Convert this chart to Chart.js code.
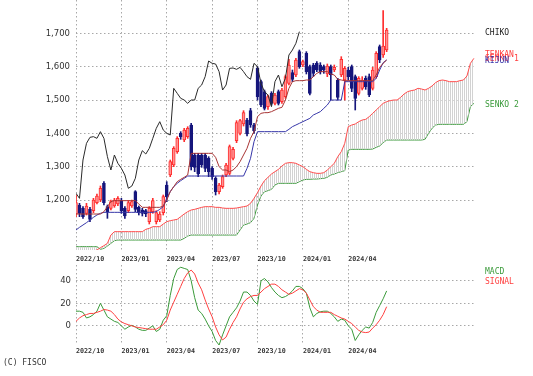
<!DOCTYPE html>
<html>
<head>
<meta charset="utf-8">
<script src="https://cdn.jsdelivr.net/npm/chart.js@4.4.1/dist/chart.umd.min.js"></script>
<style>
body { margin: 0; background: #fff; width: 533px; height: 376px; overflow: hidden; position: relative; }
canvas { position: absolute; left: 0; }
#main { top: 0; }
#macd { top: 265px; }
.lbl { position: absolute; font-family: "DejaVu Sans Mono", monospace; font-size: 8px; line-height: 8px; white-space: pre; }
</style>
</head>
<body>
<canvas id="main" width="533" height="265"></canvas>
<canvas id="macd" width="533" height="100"></canvas>
<div class="lbl" style="left:485px;top:29px;color:#222">CHIKO</div>
<div class="lbl" style="left:485px;top:51px;color:#ff4040">TENKAN</div>
<div class="lbl" style="left:485px;top:55px;color:#ff4040">SENKO 1</div>
<div class="lbl" style="left:485px;top:57px;color:#3333aa">KIJUN</div>
<div class="lbl" style="left:485px;top:101px;color:#3a9a3a">SENKO 2</div>
<div class="lbl" style="left:485px;top:268px;color:#3a9a3a">MACD</div>
<div class="lbl" style="left:485px;top:278px;color:#ff4040">SIGNAL</div>
<div class="lbl" style="left:3px;top:359px;color:#333">(C) FISCO</div>
<script>
// weekly data, index 0 = first week of 2022/10
var quarterIdx = [0, 13, 26, 39, 52, 65, 78];
var quarterLabels = ['2022/10', '2023/01', '2023/04', '2023/07', '2023/10', '2024/01', '2024/04'];
var priceTicks = [1200, 1300, 1400, 1500, 1600, 1700];
var macdTicks = [0, 20, 40];

var opens = [1158,1185,1175,1160,1172,1168,1192,1200,1250,1180,1175,1182,1188,1198,1175,1168,1182,1225,1178,1170,
  1168,1135,1165,1135,1140,1162,1245,1275,1305,1345,1400,1380,1390,1425,1335,1335,1335,1335,1325,1295,
  1265,1225,1240,1275,1280,1325,1378,1400,1428,1440,1468,1425,1595,1555,1525,1480,1520,1490,1525,1495,
  1510,1550,1582,1575,1645,1605,1640,1600,1605,1610,1605,1600,1578,1600,1590,1560,1575,1560,1590,1600,
  1570,1520,1535,1565,1570,1535,1570,1660,1635,1650];
var highs = [1215,1190,1180,1190,1178,1205,1218,1242,1255,1185,1200,1205,1210,1205,1180,1198,1200,1228,1182,1175,
  1172,1180,1205,1168,1165,1215,1255,1320,1360,1390,1405,1415,1420,1430,1340,1340,1340,1340,1330,1300,
  1270,1250,1275,1310,1365,1358,1438,1442,1468,1445,1475,1430,1600,1560,1530,1515,1525,1520,1530,1535,
  1575,1622,1590,1625,1650,1620,1645,1605,1610,1615,1612,1605,1608,1605,1605,1565,1630,1600,1598,1605,
  1575,1570,1570,1572,1578,1598,1645,1665,1768,1715];
var lows = [1150,1150,1145,1155,1135,1162,1188,1195,1185,1145,1170,1178,1183,1160,1145,1162,1178,1165,1155,1152,
  1150,1128,1160,1128,1135,1155,1195,1270,1300,1340,1382,1375,1385,1290,1285,1270,1298,1285,1270,1262,
  1215,1218,1235,1270,1275,1320,1372,1395,1422,1392,1418,1400,1500,1480,1470,1472,1485,1485,1485,1490,
  1505,1545,1555,1570,1595,1600,1578,1515,1570,1585,1578,1580,1570,1500,1585,1500,1570,1500,1560,1525,
  1470,1515,1530,1532,1510,1530,1565,1612,1628,1645];
var closes = [1192,1160,1150,1182,1142,1200,1212,1235,1192,1165,1195,1200,1205,1168,1152,1192,1195,1172,1162,1160,
  1158,1175,1198,1162,1158,1210,1210,1315,1355,1385,1390,1410,1415,1300,1298,1278,1305,1295,1285,1270,
  1225,1245,1270,1305,1360,1352,1432,1438,1462,1398,1425,1408,1510,1485,1475,1510,1490,1515,1490,1530,
  1570,1605,1562,1620,1600,1615,1585,1520,1580,1590,1585,1590,1602,1575,1598,1508,1622,1595,1570,1535,
  1505,1565,1560,1540,1515,1590,1640,1620,1662,1710];

var tenkan = [1158,1158,1158,1158,1158,1158,1158,1158,1165,1180,1195,1198,1198,1198,1198,1198,1198,1198,1188,1178,
  1178,1178,1178,1178,1178,1182,1200,1225,1240,1255,1262,1268,1275,1340,1340,1340,1340,1340,1340,1340,
  1328,1300,1290,1290,1285,1290,1300,1315,1335,1355,1385,1405,1450,1460,1462,1462,1465,1470,1475,1478,
  1500,1535,1555,1558,1558,1558,1560,1560,1570,1580,1585,1585,1585,1578,1575,1562,1560,1558,1558,1558,
  1558,1558,1558,1558,1558,1558,1575,1598,1610,1620];
var kijun = [1110,1118,1125,1132,1140,1148,1155,1160,1163,1163,1163,1163,1163,1163,1163,1163,1163,1163,1163,1163,
  1163,1163,1163,1165,1172,1180,1205,1225,1240,1250,1258,1265,1272,1272,1272,1272,1272,1272,1272,1272,
  1272,1272,1272,1272,1272,1272,1272,1272,1272,1295,1325,1375,1405,1405,1405,1405,1405,1405,1405,1405,
  1405,1412,1420,1425,1430,1435,1440,1445,1455,1460,1465,1475,1485,1500,1500,1500,1500,1555,1555,1555,
  1555,1555,1555,1555,1555,1555,1565,1590,1612,1620];
var senko1 = [1030,1033,1036,1040,1043,1047,1050,1057,1063,1070,1095,1105,1105,1105,1105,1105,1105,1105,1105,1105,
  1112,1115,1120,1120,1120,1128,1135,1138,1140,1142,1150,1158,1165,1170,1172,1175,1178,1180,1180,1180,
  1178,1178,1176,1175,1175,1175,1176,1178,1180,1182,1190,1205,1222,1242,1258,1268,1278,1285,1292,1302,
  1310,1312,1312,1310,1305,1300,1292,1285,1282,1280,1280,1282,1290,1300,1310,1330,1345,1370,1420,1425,
  1428,1435,1440,1442,1450,1460,1470,1480,1490,1495,1498,1500,1500,1508,1518,1525,1528,1530,1535,1533,
  1530,1535,1542,1552,1558,1560,1558,1555,1555,1555,1558,1560,1572,1610,1625];
var senko2 = [1060,1060,1060,1060,1060,1060,1060,1052,1055,1062,1070,1078,1080,1080,1080,1080,1080,1080,1080,1080,
  1080,1080,1080,1080,1080,1080,1080,1080,1080,1080,1080,1085,1092,1095,1095,1095,1095,1095,1095,1095,
  1095,1095,1095,1095,1095,1095,1095,1110,1125,1128,1132,1145,1185,1212,1225,1228,1232,1245,1250,1250,
  1250,1250,1250,1250,1255,1260,1262,1262,1263,1263,1264,1265,1268,1275,1278,1282,1285,1288,1350,1352,
  1352,1352,1352,1352,1352,1353,1358,1362,1372,1380,1380,1380,1380,1380,1380,1380,1380,1380,1380,1380,
  1382,1400,1415,1425,1427,1427,1427,1427,1427,1427,1427,1427,1435,1480,1490];
var chikou = [1220,1205,1320,1370,1388,1390,1385,1405,1385,1330,1290,1335,1310,1295,1275,1235,1242,1265,1320,1348,
  1338,1355,1385,1415,1435,1410,1400,1395,1535,1520,1505,1500,1490,1500,1500,1535,1545,1570,1617,1610,
  1608,1585,1530,1545,1595,1596,1592,1598,1585,1570,1562,1610,1600,1550,1525,1515,1480,1555,1575,1540,
  1565,1635,1650,1670,1705];

var macd = [13,13,12,7,8,10,13,20,14,8,6,4,3,0,-3,-1,0.5,-1,-3,-4,
  -4,-2,0,-5,-3,5,9,27,42,50,52,51,50,40,25,14,11,6,0,-5,
  -13,-17,-8,0,8,12,16,22,30,30,27,22,19,40,42,39,34,30,27,25,
  26,28,31,35,35,33,29,16,8,11,12.5,13,13,11,8,4,6,5,0,-3,
  -13,-8,-4,-1,-2,3,12,18,24,31];
var signal = [4,7,9,10,11,11,12,13,14.5,14,13,10,6,3.5,2,1,0,-1,-1.5,-2,
  -2.5,-3,-3,-3,-1,1,5,14,21,28,35,42,47,49.5,46,38,32,23,15,8,
  -1,-8,-12.5,-10,-3,3,8,15,21,24,26,27,27,30,33,35,37,37,35,32,
  30,28,29,31,33,32,29,23,17,14,12,12,12,12,10,8.5,7,6,4,2,
  -1,-4,-5.5,-6,-5.5,-2,1,5,10,17];

function pts(arr) {
  return arr.map(function(v, i) { return {x: i, y: v}; });
}

var upFill = '#ff9292', upLine = '#ff2f2f', dnColor = '#16167c';
var candleUp = closes.map(function(c, i) { return c >= opens[i]; });

// vertical hatch for the cloud
var pc = document.createElement('canvas');
pc.width = 2; pc.height = 1;
var pctx = pc.getContext('2d');
pctx.fillStyle = '#d2d2d2';
pctx.fillRect(0, 0, 1, 1);
var hatch = document.getElementById('main').getContext('2d').createPattern(pc, 'repeat');

var tickFont = {family: 'DejaVu Sans Mono', size: 6.7, weight: 'bold'};
var yFont = {family: 'DejaVu Sans', size: 8.5};
var gridCol = '#a8a8a8';
var gridDash = [1.5, 2.5];

function noPad(scale) {
  scale.paddingTop = 0; scale.paddingBottom = 0;
  scale.paddingLeft = 0; scale.paddingRight = 0;
}

function xAxis(showLabels, pad, h) {
  return {
    type: 'linear', min: 0, max: 114.6, offset: false,
    grid: {offset: false, color: gridCol, drawTicks: false},
    border: {display: false, dash: gridDash},
    afterBuildTicks: function(scale) {
      scale.ticks = quarterIdx.map(function(v) { return {value: v}; });
    },
    afterFit: function(scale) { scale.height = h; noPad(scale); },
    ticks: {
      display: showLabels, align: 'start', padding: pad, maxRotation: 0, autoSkip: false,
      color: '#333', font: tickFont,
      callback: function(v) { return quarterLabels[quarterIdx.indexOf(v)]; }
    }
  };
}

Chart.defaults.animation = false;

new Chart(document.getElementById('main'), {
  type: 'bar',
  data: {
    datasets: [
      {type: 'line', label: 'SENKO 2', data: pts(senko2), borderColor: '#3a9a3a', borderWidth: 1,
        pointRadius: 0, fill: false, order: 6},
      {type: 'line', label: 'SENKO 1', data: pts(senko1), borderColor: '#ff4d4d', borderWidth: 1,
        pointRadius: 0, fill: {target: '-1', above: hatch, below: hatch}, order: 5},
      {label: 'wick', data: highs.map(function(h, i) { return {x: i, y: [lows[i], h]}; }),
        backgroundColor: candleUp.map(function(u) { return u ? upLine : dnColor; }),
        barThickness: 1, grouped: false, order: 4},
      {label: 'body', data: opens.map(function(o, i) { return {x: i, y: [o, closes[i]]}; }),
        backgroundColor: candleUp.map(function(u) { return u ? upFill : dnColor; }),
        borderColor: candleUp.map(function(u) { return u ? upLine : dnColor; }),
        borderWidth: 1, borderSkipped: false, barThickness: 3, grouped: false, order: 3},
      {type: 'line', label: 'KIJUN', data: pts(kijun), borderColor: '#3535a8', borderWidth: 1,
        pointRadius: 0, order: 2},
      {type: 'line', label: 'TENKAN', data: pts(tenkan), borderColor: '#a83434', borderWidth: 1,
        pointRadius: 0, order: 1},
      {type: 'line', label: 'CHIKO', data: pts(chikou), borderColor: '#2a2a2a', borderWidth: 1,
        pointRadius: 0, order: 0}
    ]
  },
  options: {
    responsive: false,
    devicePixelRatio: 1,
    layout: {padding: {left: 0, right: 57, top: 0, bottom: 0}},
    plugins: {legend: {display: false}, tooltip: {enabled: false}},
    scales: {
      x: xAxis(true, 5.5, 15),
      y: {
        type: 'linear', min: 1050, max: 1800,
        grid: {color: gridCol, drawTicks: false},
        border: {display: false, dash: gridDash},
        afterBuildTicks: function(scale) {
          scale.ticks = priceTicks.map(function(v) { return {value: v}; });
        },
        afterFit: function(scale) { scale.width = 76; noPad(scale); },
        ticks: {padding: 6, color: '#333', font: yFont,
          callback: function(v) { return v.toLocaleString('en-US'); }}
      }
    }
  }
});

new Chart(document.getElementById('macd'), {
  type: 'line',
  data: {
    datasets: [
      {label: 'SIGNAL', data: pts(signal), borderColor: '#ff4040', borderWidth: 1, pointRadius: 0},
      {label: 'MACD', data: pts(macd), borderColor: '#3a9a3a', borderWidth: 1, pointRadius: 0}
    ]
  },
  options: {
    responsive: false,
    devicePixelRatio: 1,
    layout: {padding: {left: 0, right: 57, top: 0, bottom: 0}},
    plugins: {legend: {display: false}, tooltip: {enabled: false}},
    scales: {
      x: xAxis(true, 2.5, 20),
      y: {
        type: 'linear', min: -17, max: 54,
        grid: {color: gridCol, drawTicks: false},
        border: {display: false, dash: gridDash},
        afterBuildTicks: function(scale) {
          scale.ticks = macdTicks.map(function(v) { return {value: v}; });
        },
        afterFit: function(scale) { scale.width = 76; noPad(scale); },
        ticks: {padding: 5, color: '#333', font: yFont}
      }
    }
  }
});
</script>
</body>
</html>
